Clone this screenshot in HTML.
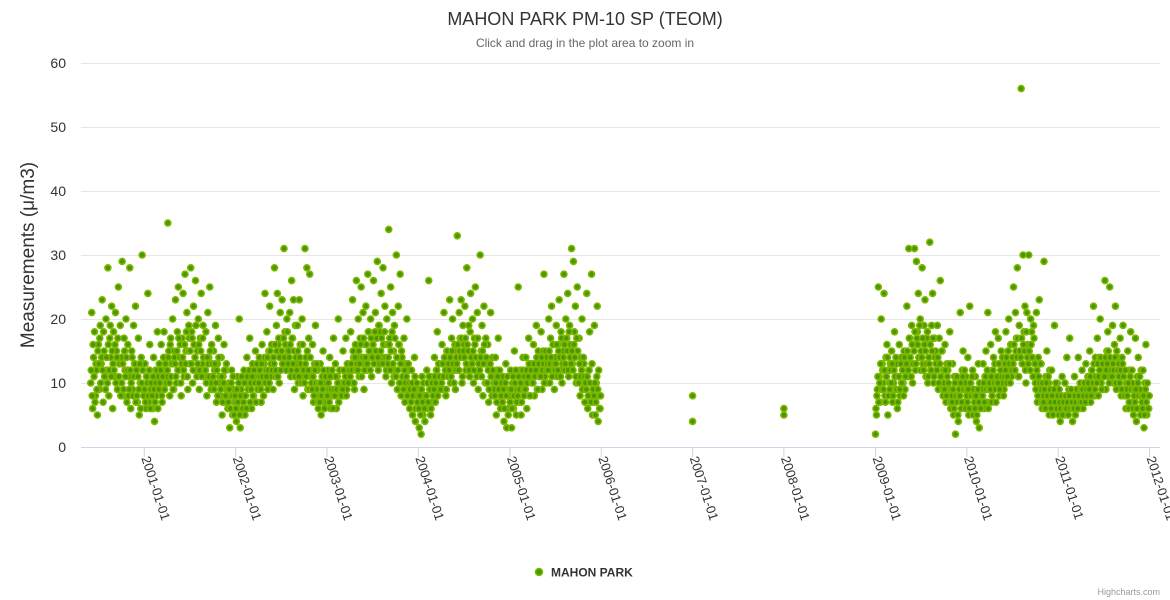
<!DOCTYPE html>
<html><head><meta charset="utf-8">
<style>
html,body{margin:0;padding:0;background:#fff;}
svg{display:block;font-family:"Liberation Sans","DejaVu Sans",sans-serif;}
</style></head>
<body>
<svg id="chart" width="1170" height="600" viewBox="0 0 1170 600">
  <rect x="0" y="0" width="1170" height="600" fill="#fff"/>
  <text x="585" y="25" text-anchor="middle" font-size="18" fill="#333">MAHON PARK PM-10 SP (TEOM)</text>
  <text x="585" y="47" text-anchor="middle" font-size="12" fill="#666">Click and drag in the plot area to zoom in</text>
  <g id="grid"></g>
  <g id="yticks"></g>
  <text transform="translate(34,255) rotate(-90)" text-anchor="middle" font-size="19" fill="#333">Measurements (μ/m3)</text>
  <line x1="81" y1="447.5" x2="1160" y2="447.5" stroke="#ccd6eb" stroke-width="1"/>
  <g id="xticks"></g>
  <g id="points"></g>
  <g>
    <circle cx="539" cy="572" r="3.5" fill="#4a9600" stroke="#7cb800" stroke-width="1.5"/>
    <text x="551" y="576.5" font-size="12" font-weight="bold" fill="#333">MAHON PARK</text>
  </g>
  <text x="1160" y="595" text-anchor="end" font-size="9" fill="#999">Highcharts.com</text>
</svg>
<script>
const yTicks = [0, 10, 20, 30, 40, 50, 60];
const xTickLabels = ["2001-01-01","2002-01-01","2003-01-01","2004-01-01","2005-01-01","2006-01-01","2007-01-01","2008-01-01","2009-01-01","2010-01-01","2011-01-01","2012-01-01"];
const segAStart = "2000-06-01";
const segAValues = [
10,21,6,14,18,8,12,5, 16,9,19,13,23,7,15,11, 20,12,28,8,17,14,22,6, 18,11,21,15,9,25,13,19,
14,29,8,17,12,20,7,16, 11,28,6,15,9,19,13,22, 12,7,17,5,10,14,30,9, 8,13,6,11,24,7,16,9,
10,6,14,4,12,8,18,11, 13,9,16,7,12,18,10,14, 11,35,15,8,17,13,20,9, 14,23,10,18,25,12,16,8,
17,24,11,27,15,21,9,19, 13,28,18,10,22,16,26,12, 15,20,9,17,24,13,19,11, 12,18,8,21,14,25,10,16,
9,15,12,19,7,13,17,10, 8,14,5,11,16,7,12,9, 6,10,3,8,12,5,9,7, 7,4,11,6,20,3,9,5,
8,12,5,10,14,6,9,17, 10,6,13,8,11,15,7,12, 9,14,11,7,16,10,13,24, 12,18,9,15,22,11,16,13,
14,28,11,19,24,16,10,21, 17,23,13,31,18,12,20,15, 15,21,11,26,17,23,9,19, 13,19,10,23,16,12,20,8,
11,31,14,28,9,17,27,12, 10,16,7,13,19,9,12,6, 8,13,5,11,15,7,10,9, 7,12,9,14,6,11,8,17,
9,13,6,11,20,8,12,10, 10,15,8,12,17,9,13,11, 12,18,10,23,14,9,16,26, 14,20,11,17,25,13,21,9,
16,22,12,27,18,14,20,11, 15,26,13,21,17,29,12,19, 18,24,14,28,16,22,11,20, 13,34,17,25,10,21,15,19,
12,30,9,22,16,27,8,14, 10,17,7,13,20,9,12,6, 8,12,5,10,14,4,9,7, 6,3,9,2,11,5,8,4,
8,12,6,26,9,5,11,7, 10,14,7,12,18,9,13,11, 11,16,9,21,13,8,15,12, 13,23,10,17,20,12,15,9,
14,33,12,21,17,23,10,19, 16,22,12,28,15,19,11,24, 13,20,10,17,25,14,21,9, 12,30,15,19,8,22,13,17,
10,16,7,13,21,9,14,11, 9,14,5,12,17,7,11,8, 7,11,4,9,13,3,8,6, 8,12,3,10,6,15,9,5,
9,25,7,12,5,10,14,8, 10,14,6,12,17,8,11,13, 11,16,8,13,19,9,15,12, 12,18,9,15,27,11,14,10,
13,20,10,17,22,12,16,9, 14,19,11,16,23,12,18,10, 15,27,12,20,17,24,11,19, 16,31,13,29,18,22,10,25,
11,17,8,14,20,10,13,7, 9,24,6,12,18,8,27,5, 7,19,5,10,22,4,8,6
];
const segAValues2 = [
12,8,16,11,7,13,9,15, 13,17,10,14,12,18,11,9, 14,10,16,12,19,11,15,13, 12,16,10,14,17,11,13,8,
10,13,9,15,11,14,12,8, 9,12,10,14,8,11,13,7, 8,11,9,13,6,10,12,8, 9,7,11,10,8,12,6,10,
8,11,9,7,10,12,6,9, 10,12,8,11,14,9,13,10, 12,14,10,16,11,13,9,15, 13,11,15,12,17,14,10,13,
14,12,16,13,18,11,15,17, 15,13,17,12,16,14,19,11, 13,16,12,15,11,17,14,12, 12,10,14,13,11,15,9,13,
11,9,13,10,12,8,14,11, 9,11,7,10,12,8,13,9, 7,9,6,10,8,11,5,8, 6,9,7,10,5,8,11,6,
7,10,8,6,11,9,12,7, 9,11,8,12,10,7,13,9, 10,12,9,13,11,8,14,10, 11,14,12,10,15,13,12,9,
13,16,12,15,11,17,14,12, 15,13,17,14,16,12,18,13, 14,16,12,17,13,15,11,14, 12,15,11,14,13,10,16,12,
10,13,11,15,12,9,14,11, 9,11,8,12,10,13,7,10, 7,10,8,9,12,6,11,8, 8,10,7,11,9,12,6,9,
8,11,9,10,7,12,9,8, 9,12,10,11,8,13,10,12, 11,13,12,15,10,14,12,13, 12,15,13,16,11,14,17,12,
14,16,13,18,15,12,17,14, 16,13,18,15,17,14,19,13, 15,17,13,16,18,14,12,16, 14,16,12,15,18,13,11,17,
11,14,12,16,10,13,15,11, 9,12,10,11,8,13,10,9, 7,10,8,9,11,6,10,8, 6,8,5,9,7,10,6,8,
8,10,7,11,9,6,10,8, 9,11,10,12,8,13,11,9, 10,13,11,14,12,9,15,11, 12,14,11,15,13,10,16,12,
13,16,12,15,14,17,11,15, 14,17,13,16,15,12,18,14, 13,15,12,16,14,11,17,13, 12,14,11,15,13,16,10,14,
10,12,9,13,11,8,12,10, 8,10,7,11,9,12,6,10, 7,9,6,10,8,11,5,9, 7,9,6,11,8,10,12,7,
8,11,9,10,7,12,9,11, 9,12,10,11,13,8,12,10, 10,13,11,12,14,9,13,11, 11,14,12,13,10,15,12,13,
12,15,13,14,11,16,13,12, 13,16,12,15,14,11,17,13, 14,16,13,17,15,12,18,14, 13,15,12,16,14,11,17,15,
10,13,11,12,9,14,11,10, 9,11,8,12,10,7,13,9, 8,10,7,11,9,12,6,8
];
const segBStart = "2009-01-01";
const segBValues = [
2,5,9,25,11,7,20,13, 10,24,8,14,16,5,12,9, 12,15,7,10,18,9,13,6, 11,16,8,14,13,10,15,9,
14,22,11,31,17,13,19,10, 16,31,12,29,18,24,14,20, 15,28,13,19,23,11,17,10, 14,32,12,19,24,10,17,15,
13,19,9,17,26,11,15,8, 10,16,7,13,12,9,18,6, 8,13,5,11,2,7,10,4, 9,21,6,12,15,7,10,11,
8,14,5,22,10,6,12,9, 7,11,4,9,13,3,8,10, 9,13,6,11,15,7,21,10, 10,16,7,12,14,9,18,11,
11,17,8,13,15,10,14,9, 13,18,10,15,20,12,16,11, 14,25,12,21,17,28,11,19, 15,56,13,30,18,22,10,21,
16,30,12,20,18,14,19,11, 10,21,7,14,23,9,13,6, 8,29,6,11,15,7,10,12, 7,12,5,9,19,6,8,10,
6,9,4,8,11,7,5,10, 7,14,5,9,17,6,8,4, 8,11,5,9,7,14,6,10, 9,12,6,10,8,13,7,11,
10,15,7,12,9,22,8,14, 11,17,8,14,20,10,13,9, 12,26,9,15,18,11,25,13, 13,19,10,16,22,9,14,11,
11,17,8,14,19,9,12,6, 9,15,6,12,18,7,10,5, 8,17,4,11,14,6,9,12, 7,12,3,10,16,5,8,6
];
const segBValues2 = [
6,8,11,7,10,13,9,12, 9,12,7,11,14,8,10,13, 10,13,8,12,11,14,9,7, 11,9,13,10,12,8,14,11,
13,15,12,17,14,11,16,13, 15,18,13,17,16,14,19,12, 14,17,12,16,15,13,18,11, 13,16,12,15,17,11,14,13,
12,14,10,13,11,15,9,12, 9,12,8,11,10,13,7,9, 7,9,6,10,8,11,5,8, 8,10,7,11,9,12,6,9,
7,9,6,10,8,11,5,8, 6,8,5,9,7,10,6,8, 8,10,7,11,9,12,6,9, 9,11,8,12,10,13,7,10,
10,13,9,12,11,14,8,11, 12,14,11,15,13,10,16,12, 13,16,12,15,14,17,11,15, 14,17,13,16,15,12,18,14,
13,15,12,16,14,11,17,13, 9,12,8,11,10,13,7,10, 7,9,6,10,8,11,5,9, 6,8,5,9,7,10,6,8,
5,7,6,8,5,7,6,8, 6,7,5,8,6,9,7,6, 6,8,7,9,6,8,7,9, 7,9,8,10,7,9,8,10,
9,11,8,12,10,13,9,11, 10,13,11,12,14,9,13,11, 11,14,12,13,15,10,14,12, 11,13,12,14,10,15,12,13,
10,12,9,13,11,8,12,10, 8,10,7,11,9,12,6,9, 7,9,6,10,8,11,5,8, 6,8,5,9,7,10,6,8
];
const isolatedDates = ["2007-01-01","2007-01-01","2008-01-01","2008-01-01"];
const isolatedValues = [8, 4, 6, 5];

const NS = "http://www.w3.org/2000/svg";
const T0 = Date.parse("2001-01-01"), T1 = Date.parse("2012-01-01");
function xScale(ms){ return 144.3 + (ms - T0) / (T1 - T0) * (1149.5 - 144.3); }
function yScale(v){ return 447 - v * 6.4; }
const DAY = 86400000, STEP = 365.25 / 96 * DAY;

const grid = document.getElementById('grid');
const yt = document.getElementById('yticks');
yTicks.forEach(v => {
  if (v > 0) {
    const l = document.createElementNS(NS, 'line');
    l.setAttribute('x1', 81); l.setAttribute('x2', 1160);
    l.setAttribute('y1', yScale(v) + 0.5); l.setAttribute('y2', yScale(v) + 0.5);
    l.setAttribute('stroke', '#e6e6e6');
    
    
    grid.appendChild(l);
  }
  const t = document.createElementNS(NS, 'text');
  t.setAttribute('x', 66); t.setAttribute('y', yScale(v) + 5);
  t.setAttribute('text-anchor', 'end'); t.setAttribute('font-size', '14'); t.setAttribute('fill', '#333');
  t.textContent = v;
  
  
  yt.appendChild(t);
});

const xt = document.getElementById('xticks');
xTickLabels.forEach(d => {
  const x = xScale(Date.parse(d));
  const l = document.createElementNS(NS, 'line');
  l.setAttribute('x1', x); l.setAttribute('x2', x);
  l.setAttribute('y1', 447); l.setAttribute('y2', 457);
  l.setAttribute('stroke', '#ccd6eb');
  
  
  xt.appendChild(l);
  const t = document.createElementNS(NS, 'text');
  t.setAttribute('transform', 'translate(' + (x - 3) + ',458) rotate(72)');
  t.setAttribute('font-size', '13'); t.setAttribute('fill', '#333');
  t.textContent = d;
  
  
  xt.appendChild(t);
});

const pts = document.getElementById('points');
function addPoint(ms, v){
  const c = document.createElementNS(NS, 'circle');
  c.setAttribute('cx', xScale(ms).toFixed(2));
  c.setAttribute('cy', yScale(v).toFixed(2));
  c.setAttribute('r', '3');
  c.setAttribute('fill', '#4a9600');
  c.setAttribute('stroke', '#7cb800');
  c.setAttribute('stroke-width', '1.6');
  
  
  pts.appendChild(c);
}
const aStart = Date.parse(segAStart);
segAValues.forEach((v, i) => addPoint(aStart + i * STEP, v));
segAValues2.forEach((v, i) => addPoint(aStart + (i + 0.5) * STEP, v));
const bStart = Date.parse(segBStart);
segBValues.forEach((v, i) => addPoint(bStart + i * STEP, v));
segBValues2.forEach((v, i) => addPoint(bStart + (i + 0.5) * STEP, v));
isolatedValues.forEach((v, i) => addPoint(Date.parse(isolatedDates[i]), v));
</script>
</body></html>
